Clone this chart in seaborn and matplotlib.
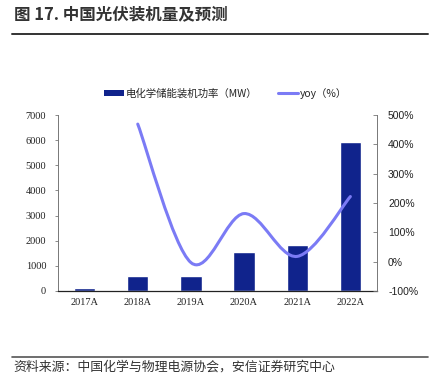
import numpy as np
import pandas as pd
import matplotlib
matplotlib.use("Agg")
import matplotlib.pyplot as plt
import seaborn as sns
from matplotlib.path import Path
from matplotlib.patches import PathPatch, Patch
from matplotlib.lines import Line2D

# 数据
years = ["2017A", "2018A", "2019A", "2020A", "2021A", "2022A"]
power_mw = [100, 600, 580, 1550, 1830, 5920]
yoy = [np.nan, 4.69, -0.03, 1.64, 0.18, 2.22]

title = "图 17. 中国光伏装机量及预测"
source = "资料来源：中国化学与物理电源协会，安信证券研究中心"
bar_label = "电化学储能装机功率（MW）"
line_label = "yoy（%）"

bar_color = "#10238c"
line_color = "#7b7bf5"

sns.set_style("white")
plt.rcParams["font.family"] = ["Noto Sans CJK SC", "DejaVu Sans"]

fig = plt.figure(figsize=(4.31, 3.88), dpi=100)
ax = fig.add_axes([0.1346, 0.25, 0.74, 0.4536])

df = pd.DataFrame({"year": years, "mw": power_mw})
sns.barplot(data=df, x="year", y="mw", color=bar_color, width=0.4,
            saturation=1, ax=ax)
ax.set_xlim(-0.5, len(years) - 0.5)
ax.set_ylim(0, 7000)
ax.set_yticks(range(0, 7001, 1000))
ax.set_xlabel("")
ax.set_ylabel("")

serif = "Liberation Serif"
for lab in ax.get_yticklabels():
    lab.set_fontfamily(serif)
for lab in ax.get_xticklabels():
    lab.set_fontfamily(serif)
ax.tick_params(axis="y", labelsize=7.5, length=2.5, width=0.6, color="#777777",
               left=True, pad=6, labelcolor="#222222")
ax.tick_params(axis="x", labelsize=7.5, length=0, pad=5, labelcolor="#222222")
for s in ["top", "right"]:
    ax.spines[s].set_visible(False)
ax.spines["left"].set_color("#777777")
ax.spines["left"].set_linewidth(0.7)
ax.spines["bottom"].set_color("#222222")
ax.spines["bottom"].set_linewidth(0.9)

# 右轴：yoy 平滑曲线
ax2 = ax.twinx()
ax2.set_ylim(-1.0, 5.0)
ax2.set_yticks(np.arange(-1.0, 5.01, 1.0))
ax2.set_yticklabels([f"{int(round(v * 100))}%" for v in np.arange(-1.0, 5.01, 1.0)],
                    fontfamily="Liberation Sans")
ax2.tick_params(axis="y", labelsize=7.5, direction="in", length=3, width=0.6,
                color="#777777", pad=8, labelcolor="#222222")
for s in ["top", "left", "bottom"]:
    ax2.spines[s].set_visible(False)
ax2.spines["right"].set_color("#777777")
ax2.spines["right"].set_linewidth(0.7)

xs = [i for i, v in enumerate(yoy) if not np.isnan(v)]
ys = [v for v in yoy if not np.isnan(v)]
verts = [(xs[0], ys[0])]
codes = [Path.MOVETO]
n = len(xs)
for i in range(n - 1):
    p0 = np.array([xs[max(i - 1, 0)], ys[max(i - 1, 0)]])
    p1 = np.array([xs[i], ys[i]])
    p2 = np.array([xs[i + 1], ys[i + 1]])
    p3 = np.array([xs[min(i + 2, n - 1)], ys[min(i + 2, n - 1)]])
    c1 = p1 + (p2 - p0) / 6
    c2 = p2 - (p3 - p1) / 6
    verts += [tuple(c1), tuple(c2), tuple(p2)]
    codes += [Path.CURVE4] * 3
ax2.add_patch(PathPatch(Path(verts, codes), facecolor="none",
                        edgecolor=line_color, lw=2.2, capstyle="round"))

# 图例
handles = [Patch(facecolor=bar_color, edgecolor="none"),
           Line2D([], [], color=line_color, lw=2.2)]
fig.legend(handles, [bar_label, line_label], loc="center",
           bbox_to_anchor=(0.524, 0.76), ncol=2, frameon=False,
           fontsize=7.5, handlelength=1.9, handleheight=0.6,
           handletextpad=0.2, columnspacing=2.0)

# 标题与来源
fig.text(0.032, 0.963, title, fontsize=11.9, fontweight="semibold",
         color="#333333", va="center", ha="left")
fig.add_artist(Line2D([0.028, 0.993], [0.912, 0.912], color="#333333", lw=1.4))
fig.add_artist(Line2D([0.028, 0.993], [0.08, 0.08], color="#555555", lw=1.2))
fig.text(0.032, 0.053, source, fontsize=9.3, color="#333333",
         va="center", ha="left")

fig.savefig("out.png", dpi=100, facecolor="white")
